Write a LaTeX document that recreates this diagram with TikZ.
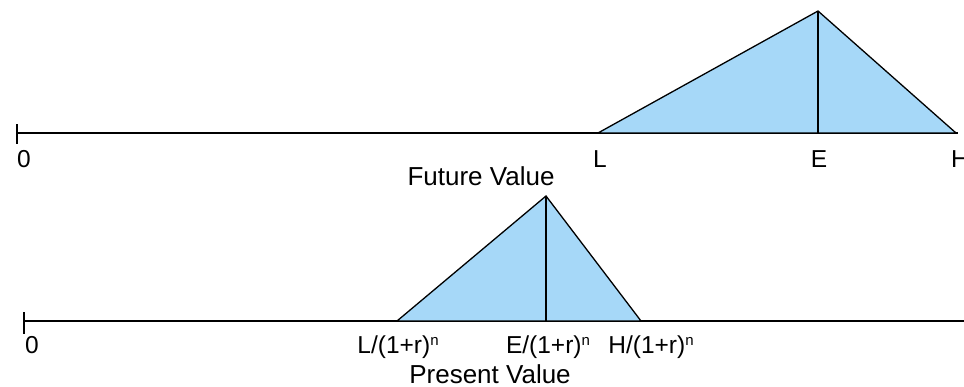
\documentclass[tikz,border=0pt]{standalone}
\usepackage{fontspec}
\setmainfont{Liberation Sans}
\usetikzlibrary{arrows.meta}
\definecolor{skyfill}{RGB}{166,216,248}
\newcommand{\expn}{\raisebox{0.3em}{\fontsize{15}{15}\selectfont n}}

\begin{document}
\begin{tikzpicture}[>=Stealth, x=1pt, y=-1pt, line width=1.4pt,
		font=\fontsize{24.5}{28}\selectfont,
		lbl/.style={inner sep=0pt, anchor=base},
		ttl/.style={lbl, font=\fontsize{26}{30}\selectfont},
		tri/.style={fill=skyfill, draw=black, line width=1.3pt, line join=miter}]
		
		\useasboundingbox (0,0) rectangle (964,387);
		
		% --- EJE DEL VALOR FUTURO ---
		\coordinate (f0) at (17,133);
		\coordinate (fend) at (958,133);
		\draw (f0) -- (fend);
		\draw ([yshift=-11pt]f0) -- ([yshift=9pt]f0); % marca del origen
		
		% Triángulo (L, E, H)
		\coordinate (fL) at (598,133);
		\coordinate (fE) at (818,133);
		\coordinate (fH) at (956,133);
		\coordinate (ftop) at (818,11);
		\draw[tri] (fL) -- (ftop) -- (fH) -- cycle;
		\draw[line width=1.1pt] (ftop) -- (fE);
		
		\node[lbl] (lf0) at (24,168) {0};
		\node[lbl] (lfL) at (600,168) {L};
		\node[lbl] (lfE) at (819,168) {E};
		\node[lbl] (lfH) at (960,168) {H};
		\node[ttl] (tfut) at (481,186) {Future Value};
		
		% --- EJE DEL VALOR PRESENTE ---
		\coordinate (p0) at (24,321);
		\coordinate (pend) at (964,321);
		\draw (p0) -- (pend);
		\draw ([yshift=-13pt]p0) -- ([yshift=9pt]p0); % marca del origen
		
		% Triángulo descontado
		\coordinate (pL) at (397,321);
		\coordinate (pE) at (546,321);
		\coordinate (pH) at (641,321);
		\coordinate (ptop) at (546,196);
		\draw[tri] (pL) -- (ptop) -- (pH) -- cycle;
		\draw[line width=1.1pt] (ptop) -- (pE);
		
		\node[lbl] (lp0) at (32,353) {0};
		\node[lbl] (lpL) at (398,353) {L/(1+r)\expn};
		\node[lbl] (lpE) at (548,353) {E/(1+r)\expn};
		\node[lbl] (lpH) at (651,353) {H/(1+r)\expn};
		\node[ttl] (tpres) at (490,383) {Present Value};
		
	\end{tikzpicture}
\end{document}
